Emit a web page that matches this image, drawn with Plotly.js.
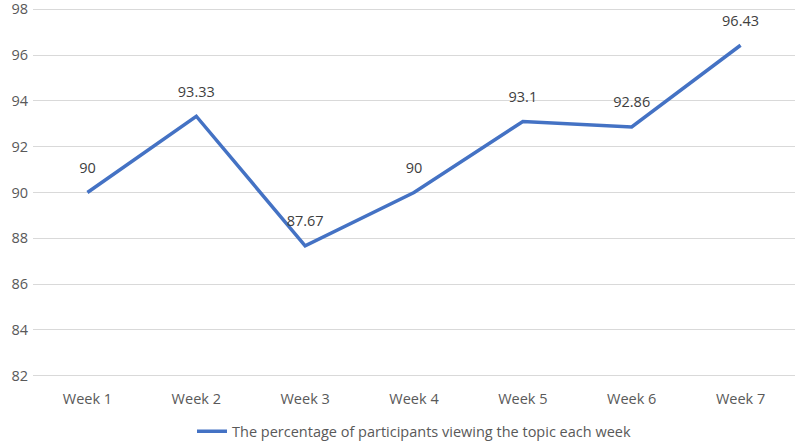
<!DOCTYPE html>
<html>
<head>
<meta charset="utf-8">
<script src="https://cdn.plot.ly/plotly-3.0.1.min.js"></script>
<style>html,body{margin:0;padding:0;background:#fff;}#chart{width:799px;height:442px;}</style>
</head>
<body>
<div id="chart"></div>
<script>
const weeks = ["Week 1", "Week 2", "Week 3", "Week 4", "Week 5", "Week 6", "Week 7"];
const percentages = [90, 93.33, 87.67, 90, 93.1, 92.86, 96.43];
const seriesName = "The percentage of participants viewing the topic each week";
const yTicks = [82, 84, 86, 88, 90, 92, 94, 96, 98];

const FONT = "Open Sans, Liberation Sans, sans-serif";

const lineTrace = {
  x: weeks,
  y: percentages,
  type: "scatter",
  mode: "lines",
  name: seriesName,
  line: {color: "#4472C4", width: 3.5},
  cliponaxis: false
};

const labelTrace = {
  x: weeks,
  y: percentages,
  type: "scatter",
  mode: "markers+text",
  showlegend: false,
  hoverinfo: "skip",
  text: percentages.map(v => String(v)),
  textposition: "top center",
  textfont: {family: FONT, size: 14.5, color: "#404040"},
  marker: {size: 24, color: "rgba(0,0,0,0)"},
  cliponaxis: false
};

const layout = {
  width: 799,
  height: 442,
  margin: {l: 33, r: 4, t: 6.7, b: 63.7, autoexpand: false},
  paper_bgcolor: "#ffffff",
  plot_bgcolor: "#ffffff",
  font: {family: FONT, size: 14.5, color: "#595959"},
  showlegend: true,
  legend: {orientation: "h", x: 0.5, xanchor: "center", yref: "container", y: 0.024, yanchor: "middle", font: {size: 14.5, color: "#595959"}},
  xaxis: {
    type: "category",
    range: [-0.5, 6.5],
    showgrid: false,
    zeroline: false,
    showline: false,
    ticks: "",
    ticklabelstandoff: 10,
    tickfont: {size: 14.5, color: "#595959"}
  },
  yaxis: {
    range: [81.9, 98.1],
    tickvals: yTicks,
    ticktext: yTicks.map(String),
    showgrid: true,
    gridcolor: "#d9d9d9",
    gridwidth: 1,
    zeroline: false,
    showline: false,
    ticks: "",
    ticklabelstandoff: 4,
    ticklabeloverflow: "allow",
    tickfont: {size: 14.5, color: "#595959"}
  }
};

Plotly.newPlot("chart", [lineTrace, labelTrace], layout, {displayModeBar: false, staticPlot: true});
</script>
</body>
</html>
